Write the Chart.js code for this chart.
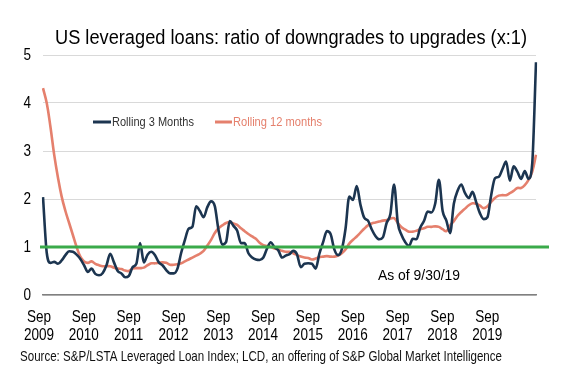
<!DOCTYPE html>
<html>
<head>
<meta charset="utf-8">
<script src="https://cdn.jsdelivr.net/npm/chart.js@4.4.1/dist/chart.umd.min.js"></script>
<style>
  html, body { margin: 0; padding: 0; background: #fff; }
  #wrap { width: 566px; height: 391px; }
</style>
</head>
<body>
<div id="wrap"><canvas id="chart" width="566" height="391"></canvas></div>
<script>
// Ratio of downgrades to upgrades, rolling 3 months
const ROLLING_3M = [
  2.04, 0.88, 0.67, 0.69, 0.65, 0.72, 0.83, 0.91, 0.90, 0.84, 0.75, 0.62,
  0.48, 0.55, 0.44, 0.41, 0.46, 0.62, 0.86, 0.68, 0.50, 0.45, 0.37, 0.40,
  0.58, 0.65, 1.08, 0.68, 0.84, 0.90, 0.83, 0.68, 0.62, 0.52, 0.45, 0.45,
  0.55, 0.88, 1.15, 1.38, 1.42, 1.85, 1.75, 1.62, 1.83, 1.95, 1.85, 1.35,
  1.05, 1.10, 1.54, 1.44, 1.34, 1.08, 1.08, 0.87, 0.78, 0.74, 0.73, 0.78,
  0.97, 1.10, 0.99, 0.93, 0.78, 0.82, 0.85, 0.92, 0.85, 0.58, 0.65, 0.66,
  0.65, 0.55, 0.86, 1.10, 1.33, 1.27, 0.95, 0.83, 0.95, 1.38, 2.05, 1.98,
  2.27, 1.88, 1.61, 1.55, 1.37, 1.23, 1.16, 1.20, 1.50, 1.68, 2.30, 1.50,
  1.25, 1.10, 1.02, 1.17, 1.16, 1.40, 1.54, 1.74, 1.72, 1.90, 2.40, 1.75,
  1.55, 1.29, 1.90, 2.17, 2.30, 2.12, 2.02, 2.15, 1.93, 1.70, 1.58, 1.62,
  2.08, 2.43, 2.46, 2.62, 2.78, 2.38, 2.68, 2.57, 2.42, 2.58, 2.42, 2.75,
  4.85
];

// Rolling 12 months
const ROLLING_12M = [
  4.31, 4.00, 3.50, 2.92, 2.45, 2.05, 1.75, 1.50, 1.25, 1.00, 0.80, 0.70,
  0.67, 0.70, 0.65, 0.62, 0.60, 0.60, 0.60, 0.57, 0.55, 0.54, 0.51, 0.50,
  0.55, 0.56, 0.56, 0.57, 0.62, 0.66, 0.66, 0.67, 0.68, 0.67, 0.63, 0.63,
  0.64, 0.66, 0.70, 0.74, 0.78, 0.82, 0.86, 0.92, 1.03, 1.15, 1.29, 1.39,
  1.45, 1.50, 1.52, 1.49, 1.46, 1.39, 1.33, 1.27, 1.22, 1.17, 1.09, 1.04,
  1.02, 1.00, 0.97, 0.95, 0.92, 0.90, 0.90, 0.87, 0.83, 0.80, 0.78, 0.77,
  0.74, 0.76, 0.79, 0.80, 0.81, 0.80, 0.80, 0.82, 0.87, 0.95, 1.07, 1.15,
  1.22, 1.30, 1.38, 1.45, 1.49, 1.51, 1.53, 1.55, 1.56, 1.59, 1.60, 1.50,
  1.41, 1.36, 1.32, 1.32, 1.34, 1.37, 1.39, 1.42, 1.42, 1.43, 1.42, 1.37,
  1.33, 1.45, 1.54, 1.65, 1.73, 1.80, 1.87, 1.91, 1.90, 1.86, 1.81, 1.85,
  1.94, 2.02, 2.07, 2.08, 2.08, 2.12, 2.17, 2.23, 2.23, 2.29, 2.40, 2.57,
  2.92
];

// one label every 12 points
const TICK_LABELS = [
  ["Sep", "2009"], ["Sep", "2010"], ["Sep", "2011"], ["Sep", "2012"],
  ["Sep", "2013"], ["Sep", "2014"], ["Sep", "2015"], ["Sep", "2016"],
  ["Sep", "2017"], ["Sep", "2018"], ["Sep", "2019"]
];
const TICK_EVERY = 12;
const PARITY = 1; // the green 1:1 line

// The original uses Arial Narrow; no narrow face is installed, so text is
// drawn with Liberation Sans squeezed horizontally.
const FONT = "'Liberation Sans', Arial, sans-serif";
const SQUEEZE = 0.82;
const NAVY = "#1c3550";
const SALMON = "#e5806d";
const GREEN = "#3aaa4a";

Chart.defaults.font.family = FONT;

// opts: { align, width (fit to px) or scale }
function narrowText(ctx, text, x, y, size, opts) {
  ctx.font = size + "px " + FONT;
  const sx = opts.width ? opts.width / ctx.measureText(text).width : (opts.scale || SQUEEZE);
  ctx.save();
  ctx.translate(x, y);
  ctx.scale(sx, 1);
  ctx.textAlign = opts.align || "left";
  ctx.fillText(text, 0, 0);
  ctx.restore();
}

const decorations = {
  id: "decorations",
  afterDatasetsDraw(chart) {
    const { ctx, scales } = chart;
    const y1 = scales.y.getPixelForValue(PARITY);
    ctx.save();
    ctx.strokeStyle = GREEN;
    ctx.lineWidth = 3;
    ctx.beginPath();
    ctx.moveTo(40, y1);
    ctx.lineTo(549, y1);
    ctx.stroke();
    ctx.restore();
  },
  afterDraw(chart) {
    const { ctx, scales } = chart;
    ctx.save();
    ctx.fillStyle = "#000";

    // axis labels, placed from the library's scales
    ctx.textBaseline = "middle";
    scales.y.ticks.forEach((t) => {
      narrowText(ctx, String(t.value), 31, scales.y.getPixelForValue(t.value), 16.5, { align: "right" });
    });
    TICK_LABELS.forEach((lines, k) => {
      const x = scales.x.getPixelForValue(k * TICK_EVERY) - 4;
      narrowText(ctx, lines[0], x, 317, 16.5, { align: "center" });
      narrowText(ctx, lines[1], x, 335, 16.5, { align: "center" });
    });

    // title
    ctx.textBaseline = "alphabetic";
    narrowText(ctx, "US leveraged loans: ratio of downgrades to upgrades (x:1)", 291, 44, 20.5, { align: "center", width: 472 });

    // legend
    ctx.textBaseline = "middle";
    ctx.lineWidth = 3;
    ctx.strokeStyle = NAVY;
    ctx.beginPath(); ctx.moveTo(93, 122); ctx.lineTo(111, 122); ctx.stroke();
    ctx.fillStyle = "#333";
    narrowText(ctx, "Rolling 3 Months", 112, 122, 13.5, { width: 82 });
    ctx.strokeStyle = SALMON;
    ctx.beginPath(); ctx.moveTo(215, 122); ctx.lineTo(232, 122); ctx.stroke();
    ctx.fillStyle = SALMON;
    narrowText(ctx, "Rolling 12 months", 233, 122, 13.5, { width: 89 });

    ctx.fillStyle = "#000";
    narrowText(ctx, "As of 9/30/19", 378, 276, 15.5, { width: 82 });

    ctx.textBaseline = "alphabetic";
    ctx.fillStyle = "#111";
    narrowText(ctx, "Source: S&P/LSTA Leveraged Loan Index; LCD, an offering of S&P Global Market Intelligence",
      20, 361, 15, { width: 482 });
    ctx.restore();
  }
};

new Chart(document.getElementById("chart"), {
  type: "line",
  data: {
    labels: ROLLING_3M.map((_, i) => i),
    datasets: [
      {
        label: "Rolling 3 Months",
        data: ROLLING_3M,
        borderColor: NAVY,
        borderWidth: 2.6,
        pointRadius: 0,
        cubicInterpolationMode: "monotone",
      },
      {
        label: "Rolling 12 months",
        data: ROLLING_12M,
        borderColor: SALMON,
        borderWidth: 2.6,
        pointRadius: 0,
        tension: 0.4,
      },
    ],
  },
  options: {
    responsive: false,
    animation: false,
    devicePixelRatio: 1,
    layout: { padding: { top: 55, right: 30, bottom: 46, left: 0 } },
    plugins: {
      legend: { display: false },
      title: { display: false },
      tooltip: { enabled: false },
    },
    scales: {
      x: {
        type: "category",
        offset: false,
        grid: { display: false, drawTicks: false },
        border: { display: true, color: "#808080", width: 1.5 },
        ticks: { display: false, autoSkip: false },
        afterFit: (s) => { s.height = 50; },
      },
      y: {
        min: 0,
        max: 5,
        grid: { color: "#d9d9d9", drawTicks: false },
        border: { display: false },
        ticks: { display: false, stepSize: 1 },
        afterFit: (s) => { s.width = 43; },
      },
    },
  },
  plugins: [decorations],
});
</script>
</body>
</html>
